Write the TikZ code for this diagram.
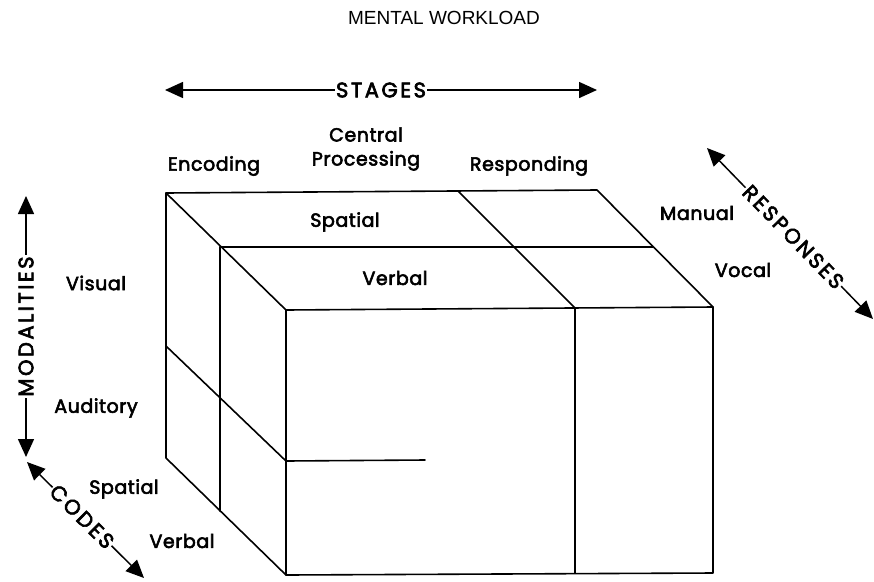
\documentclass[tikz,border=0pt]{standalone}
\usepackage{fontspec}
\usetikzlibrary{arrows.meta}
\newfontfamily\lblfont[FakeBold=3,LetterSpace=3]{Poppins}
\newfontfamily\axisfont[FakeBold=3,LetterSpace=12]{Poppins}
\newfontfamily\titlefont{Liberation Sans}
\begin{document}
\begin{tikzpicture}[x=1pt,y=-1pt,
  edge/.style={line width=1.6pt, line join=round, line cap=round},
  axisarrow/.style={line width=1.5pt, {Triangle[width=16pt,length=18pt]}-{Triangle[width=16pt,length=18pt]}},
  axislabel/.style={font=\axisfont\fontsize{21}{21}\selectfont, fill=white, inner sep=1pt},
  lbl/.style={font=\lblfont\fontsize{19}{24}\selectfont, inner sep=0pt, align=center},
  title/.style={font=\titlefont\fontsize{19}{20}\selectfont}]
\useasboundingbox (0,0) rectangle (874,581);

% title
\node[title] (ttl) at (444,18) {MENTAL WORKLOAD};

% cube corners: back layer, middle layer, front face
\coordinate (bTL) at (166,193);
\coordinate (bTR) at (597,190);
\coordinate (bBL) at (166,458);
\coordinate (mTL) at (220,247);
\coordinate (mTR) at (653,247);
\coordinate (mBL) at (220,511);
\coordinate (fTL) at (286,310);
\coordinate (fTR) at (713,307);
\coordinate (fBL) at (286,575);
\coordinate (fBR) at (713,573);
% stage divider
\coordinate (sB) at (458,191);
\coordinate (sM) at (516,248);
\coordinate (sF) at (575,308);
\coordinate (sFB) at (575,573);
% modality divider
\coordinate (dB) at (166,346);
\coordinate (dF) at (286,461);
\coordinate (dE) at (425,460);

% outer outline
\draw[edge] (bBL) -- (bTL) -- (bTR) -- (fTR) -- (fBR) -- (fBL) -- (bBL);
\draw[edge] (bTL) -- (fTL) -- (fTR);
\draw[edge] (fTL) -- (fBL);
% code layer split
\draw[edge] (mTL) -- (mTR);
\draw[edge] (mTL) -- (mBL);
% stage split
\draw[edge] (sB) -- (sF) -- (sFB);
% modality split
\draw[edge] (dB) -- (dF) -- (dE);

% axes
\coordinate (stL) at (165,90);
\coordinate (stR) at (597,90);
\draw[axisarrow] (stL) -- node[axislabel] (stages) {STAGES} (stR);
\coordinate (moB) at (26,457);
\coordinate (moT) at (26,196);
\draw[axisarrow] (moB) -- node[axislabel, sloped] (modalities) {MODALITIES} (moT);
\coordinate (coA) at (27,462);
\coordinate (coB) at (144,578);
\draw[axisarrow] (coA) -- node[axislabel, sloped, pos=0.47] (codes) {CODES} (coB);
\coordinate (reA) at (707,148);
\coordinate (reB) at (873,319);
\draw[axisarrow] (reA) -- node[axislabel, sloped, pos=0.52] (responses) {RESPONSES} (reB);

% stage labels
\node[lbl] (enc) at (214,166) {Encoding};
\node[lbl] (cen) at (366,149) {Central\\Processing};
\node[lbl] (res) at (529,166) {Responding};
% modality labels
\node[lbl] (vis) at (96,283) {Visual};
\node[lbl] (aud) at (96,408) {Auditory};
% code labels
\node[lbl] (csp) at (124,489) {Spatial};
\node[lbl] (cvb) at (182,541) {Verbal};
\node[lbl] (tsp) at (345,222) {Spatial};
\node[lbl] (tvb) at (395,278) {Verbal};
% response labels
\node[lbl] (man) at (697,213) {Manual};
\node[lbl] (voc) at (743,270) {Vocal};
\end{tikzpicture}
\end{document}
